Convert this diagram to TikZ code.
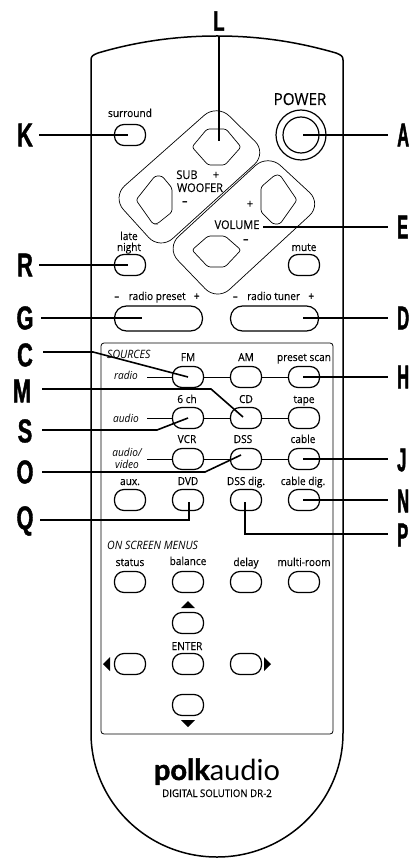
\documentclass[tikz,border=0pt]{standalone}
\usepackage{fontspec}
\setmainfont[FakeStretch=0.92,UprightFeatures={FakeBold=0.25}]{Open Sans}
\newfontfamily\lab[FakeStretch=0.66,FakeBold=1.2]{Liberation Sans Bold}
\newfontfamily\labr[FakeStretch=0.5,FakeBold=1.2]{Liberation Sans Bold}
\newfontfamily\logo{Lato}
\newfontfamily\logob[FakeBold=1.5]{Lato Bold}
\usetikzlibrary{calc}
\tikzset{
 body/.style={line width=1.5pt,draw=black},
 panel/.style={line width=.8pt,draw=black,rounded corners=3pt},
 btn/.style={draw=black,line width=1.2pt,fill=white,rounded corners=9.5pt,minimum width=31pt,minimum height=21pt,inner sep=0pt},
 wbtn/.style={btn,minimum width=88pt,minimum height=25pt,rounded corners=12pt},
 pad/.style={draw=black,line width=.7pt,rounded corners=17pt},
 dia/.style={draw=black,line width=.7pt,rounded corners=2.5pt,fill=none},
 txt/.style={font=\fontsize{11}{11}\selectfont,inner sep=0pt,anchor=base},
 big/.style={font=\fontsize{12}{12}\selectfont,inner sep=0pt,anchor=base},
 itxt/.style={font=\fontsize{11}{11}\selectfont\itshape,inner sep=0pt,anchor=base},
 head/.style={font=\fontsize{11.5}{12}\selectfont\itshape,inner sep=0pt,anchor=base west},
 minus/.style={font=\fontsize{12}{12}\selectfont\bfseries,inner sep=0,anchor=base},
 letter/.style={font=\fontsize{33}{33}\selectfont\lab,inner sep=0pt,anchor=center},
 letterr/.style={font=\fontsize{33}{33}\selectfont\labr,inner sep=0pt,anchor=west},
 lead/.style={line width=1.6pt,draw=black},
 thin/.style={line width=.8pt,draw=black},
 tri/.style={fill=black,draw=none},
}
\begin{document}
\begin{tikzpicture}[x=1pt,y=-1pt]
\useasboundingbox (0,0) rectangle (409,858);
% body
\draw[body] (91,60) .. controls (91,56) and (93,55) .. (98,53) .. controls (135,42) and (175,36) .. (217,36) .. controls (260,36) and (298,42) .. (336,53) .. controls (341,55) and (343,56) .. (343,60)
 -- (343,733) arc[start angle=0,end angle=-180,x radius=126,y radius=-124] -- cycle;
\draw[panel] (101,343) rectangle (333,734);
% pads
\draw[pad] (217,104) -- (267,153) -- (160,250) -- (112,197) -- cycle;
\draw[pad] (268,154) -- (322,204) -- (217,301) -- (166,248) -- cycle;
% diamond buttons
\draw[dia] (192,147) -- (207,129) -- (226,129) -- (241,147) -- (225,165) -- (208,165) -- cycle;
\draw[dia] (136,200) -- (155,176) -- (162,176) -- (172,188) -- (172,212) -- (157,224) -- (153,224) -- cycle;
\draw[dia] (261,187) -- (275,175) -- (280,175) -- (297,200) -- (280,224) -- (273,224) -- (261,212) -- cycle;
\draw[dia] (192,250) -- (208,236) -- (225,236) -- (241,250) -- (225,267) -- (208,267) -- cycle;
% connectors in sources panel
\coordinate (rowa) at (147,377);
\coordinate (rowb) at (147,418);
\coordinate (rowc) at (147,459);
\node[btn] (fm) at (188,377) {};
\node[btn] (am) at (246,377) {};
\node[btn] (ps) at (304,377) {};
\node[btn] (ch) at (188,418) {};
\node[btn] (cd) at (246,418) {};
\node[btn] (tape) at (304,418) {};
\node[btn] (vcr) at (188,459) {};
\node[btn] (dss) at (246,459) {};
\node[btn] (cable) at (304,459) {};
\draw[thin] (rowa) -- (fm) (fm) -- (am) (am) -- (ps);
\draw[thin] (rowb) -- (ch) (ch) -- (cd) (cd) -- (tape);
\draw[thin] (rowc) -- (vcr) (vcr) -- (dss) (dss) -- (cable);
\node[btn] (sur) at (130,135) {};
\node[btn] (late) at (130,265) {};
\node[btn] (mute) at (304,265) {};
\node[wbtn] (rp) at (158.5,318.5) {};
\node[wbtn] (rt) at (274.5,318.5) {};
\node[btn] (aux) at (130,500) {};
\node[btn] (dvd) at (188,500) {};
\node[btn] (dssd) at (246,500) {};
\node[btn] (cabd) at (304,500) {};
\node[btn] (st) at (130,582) {};
\node[btn] (bal) at (188,582) {};
\node[btn] (del) at (246,582) {};
\node[btn] (mr) at (304,582) {};
\node[btn] (up) at (188,623) {};
\node[btn] (lf) at (130,664) {};
\node[btn] (en) at (188,664) {};
\node[btn] (rg) at (246,664) {};
\node[btn] (dn) at (188,705) {};
\draw[line width=1.2pt] (301,135) circle (25);
\draw[line width=1.2pt] (301,135) circle (18);
% triangles
\fill[tri] (188,601) -- (195,608) -- (181,608) -- cycle;
\fill[tri] (188,727) -- (195,720) -- (181,720) -- cycle;
\fill[tri] (103,664) -- (110,657) -- (110,671) -- cycle;
\fill[tri] (271,664) -- (264,657) -- (264,671) -- cycle;
% texts
\node[txt] at (130,117) {surround};
\node[font=\fontsize{16.5}{16}\selectfont,inner sep=0,anchor=base] at (300,105) {POWER};
\node[big] at (187,179) {SUB};
\node[big] at (216,179) {+};
\node[big] at (200,192) {WOOFER};
\node[minus] at (185,206) {–};
\node[big] at (250,208) {+};
\node[big] at (237,229) {VOLUME};
\node[minus] at (246,244) {–};
\node[txt] at (304,251) {mute};
\node[txt] at (129,240) {late};
\node[txt] at (129,251) {night};
\node[txt] at (157,300) {\textbf{–}\hspace{.85em}radio preset\hspace{.75em}+};
\node[txt] at (273.5,300) {\textbf{–}\hspace{.85em}radio tuner\hspace{.75em}+};
\node[head] at (107,358) {SOURCES};
\node[txt] at (188,361) {FM};
\node[txt] at (246,361) {AM};
\node[txt] at (304,361) {preset scan};
\node[itxt] at (126,379) {radio};
\node[txt] at (187,403) {6 ch};
\node[txt] at (246,403) {CD};
\node[txt] at (304,403) {tape};
\node[itxt] at (126,422) {audio};
\node[txt] at (187,443) {VCR};
\node[txt] at (243,443) {DSS};
\node[txt] at (303,443) {cable};
\node[itxt] at (127,456) {audio/};
\node[itxt] at (127,468) {video};
\node[txt] at (130,485) {aux.};
\node[txt] at (188,485) {DVD};
\node[txt] at (246,485) {DSS dig.};
\node[txt] at (303,485) {cable dig.};
\node[head] at (107,549) {ON SCREEN MENUS};
\node[txt] at (130,566) {status};
\node[txt] at (188,565) {balance};
\node[txt] at (246,566) {delay};
\node[txt] at (304,566) {multi-room};
\node[txt] at (187,650) {ENTER};
\node[inner sep=0,anchor=base,font=\fontsize{29}{29}\selectfont\logo] at (217,780) {{\logob polk}audio};
\node[inner sep=0,anchor=base,font=\fontsize{10.5}{10}\selectfont] at (217,797) {DIGITAL SOLUTION DR-2};
% letters and leads
\node[letter,font=\fontsize{28}{28}\selectfont\lab] (L) at (219,21) {L};
\node[letter] (K) at (25,135) {K};
\node[letterr] (A) at (397,135) {A};
\node[letterr] (E) at (397,227) {E};
\node[letter] (R) at (25,265) {R};
\node[letter] (G) at (25,318) {G};
\node[letterr] (D) at (397,318) {D};
\node[letter] (C) at (25,355) {C};
\node[letterr] (H) at (397,377) {H};
\node[letter] (M) at (22,391) {M};
\node[letter] (S) at (25,431) {S};
\node[letterr] (J) at (397,460) {J};
\node[letter] (O) at (25,472) {O};
\node[letterr] (N) at (397,501) {N};
\node[letter] (Q) at (25,521) {Q};
\node[letterr] (P) at (397,535) {P};
\coordinate (ek) at (128,135);
\coordinate (el) at (219,141);
\coordinate (ea) at (303,135);
\coordinate (ee) at (263,227);
\coordinate (er) at (128,265);
\coordinate (eg) at (142,318);
\coordinate (ed) at (303,318);
\coordinate (ec) at (188,377);
\coordinate (eh) at (303,377);
\coordinate (em) at (243,417);
\coordinate (es) at (188,418);
\coordinate (ej) at (303,459);
\coordinate (eo) at (241,455);
\coordinate (en2) at (303,500);
\coordinate (eq) at (189,502);
\coordinate (ep) at (245,502);
\draw[lead] (39,135) -- (ek);
\draw[lead] (219,36) -- (el);
\draw[lead] (ea) -- (388,135);
\draw[lead] (ee) -- (388,227);
\draw[lead] (39,265) -- (er);
\draw[lead] (41,318) -- (eg);
\draw[lead] (ed) -- (388,318);
\draw[lead] (43,352) -- (93,352) -- (ec);
\draw[lead] (eh) -- (388,377);
\draw[lead] (42,389) -- (211,389) -- (em);
\draw[lead] (42,430) -- (157,430) -- (es);
\draw[lead] (ej) -- (388,459);
\draw[lead] (42,472) -- (205,472) -- (eo);
\draw[lead] (en2) -- (388,500);
\draw[lead] (40,520) -- (189,520) -- (eq);
\draw[lead] (ep) -- (245,534) -- (388,534);
\end{tikzpicture}
\end{document}
